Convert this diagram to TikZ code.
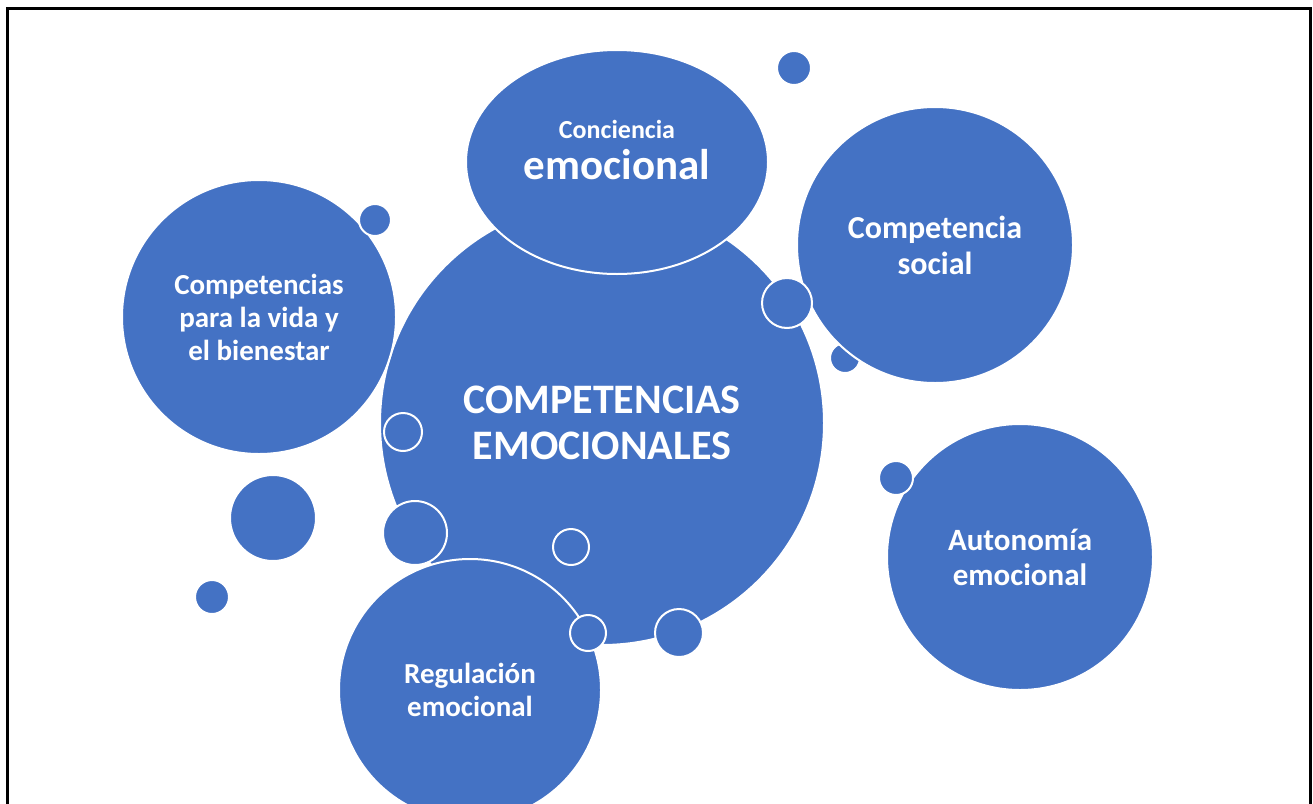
\documentclass[tikz,border=0pt]{standalone}
\usepackage{fontspec}
\setmainfont{Carlito}
\usetikzlibrary{shapes.geometric}
\definecolor{azul}{RGB}{68,114,196}
\tikzset{
  burbuja/.style={circle, fill=azul, draw=white, line width=2pt, inner sep=0pt,
                  text=white, align=center, font=\bfseries},
  punto/.style={fill=azul, draw=white, line width=2pt}
}

\begin{document}
\begin{tikzpicture}[x=1pt,y=-1pt]
\useasboundingbox (0,0) rectangle (1313,803);
\clip (0,0) rectangle (1313,803);
% small bubbles
\coordinate (P1) at (510,228);
\coordinate (P2) at (375,220);
\coordinate (P3) at (845,358);
\coordinate (P4) at (787,303);
\coordinate (P5) at (896,478);
\coordinate (P6) at (588,633);
\coordinate (P7) at (403,432);
\coordinate (P8) at (415,533);
\coordinate (P9) at (571,547);
\coordinate (P10) at (679,633);
\coordinate (P11) at (273,518);
\coordinate (P12) at (212,597);
\coordinate (P13) at (794,68);
% big bubbles
\draw[punto] (P1) circle (15pt);
\node[burbuja, minimum size=444pt, font=\bfseries\fontsize{42}{46}\selectfont] (centro) at (602,423) {COMPETENCIAS\\EMOCIONALES};
\node[burbuja, minimum size=274pt, font=\bfseries\fontsize{29}{33}\selectfont] (vida) at (259,317) {Competencias\\para la vida y\\el bienestar};
\draw[punto] (P2) circle (16pt);
\node[burbuja, ellipse, minimum width=302pt, minimum height=224pt] (conciencia) at (617,162) {};
\node[text=white, align=center, inner sep=0pt, font=\bfseries] (concienciatxt) at (617,150)
  {\fontsize{26}{28}\selectfont Conciencia\\[9pt]\fontsize{43}{43}\selectfont emocional};
\draw[punto] (P3) circle (15pt);
\node[burbuja, minimum size=276pt, font=\bfseries\fontsize{32}{36}\selectfont] (social) at (935,245) {Competencia\\social};
\draw[punto] (P4) circle (25pt);
\node[burbuja, minimum size=266pt, font=\bfseries\fontsize{31}{35}\selectfont] (autonomia) at (1020,557) {Autonomía\\emocional};
\draw[punto] (P5) circle (17pt);
\node[burbuja, minimum size=262pt, font=\bfseries\fontsize{29}{33}\selectfont] (regulacion) at (470,690) {Regulación\\emocional};
\draw[punto] (P6) circle (18pt);
\draw[punto] (P7) circle (19pt);
\draw[punto] (P8) circle (32pt);
\draw[punto] (P9) circle (18pt);
\draw[punto] (P10) circle (24pt);
\draw[punto] (P11) circle (43pt);
\draw[punto] (P12) circle (17pt);
\draw[punto] (P13) circle (17pt);
% frame
\draw[line width=3pt] (7.5,810) -- (7.5,8.5) -- (1310,8.5) -- (1310,810);
\end{tikzpicture}
\end{document}
